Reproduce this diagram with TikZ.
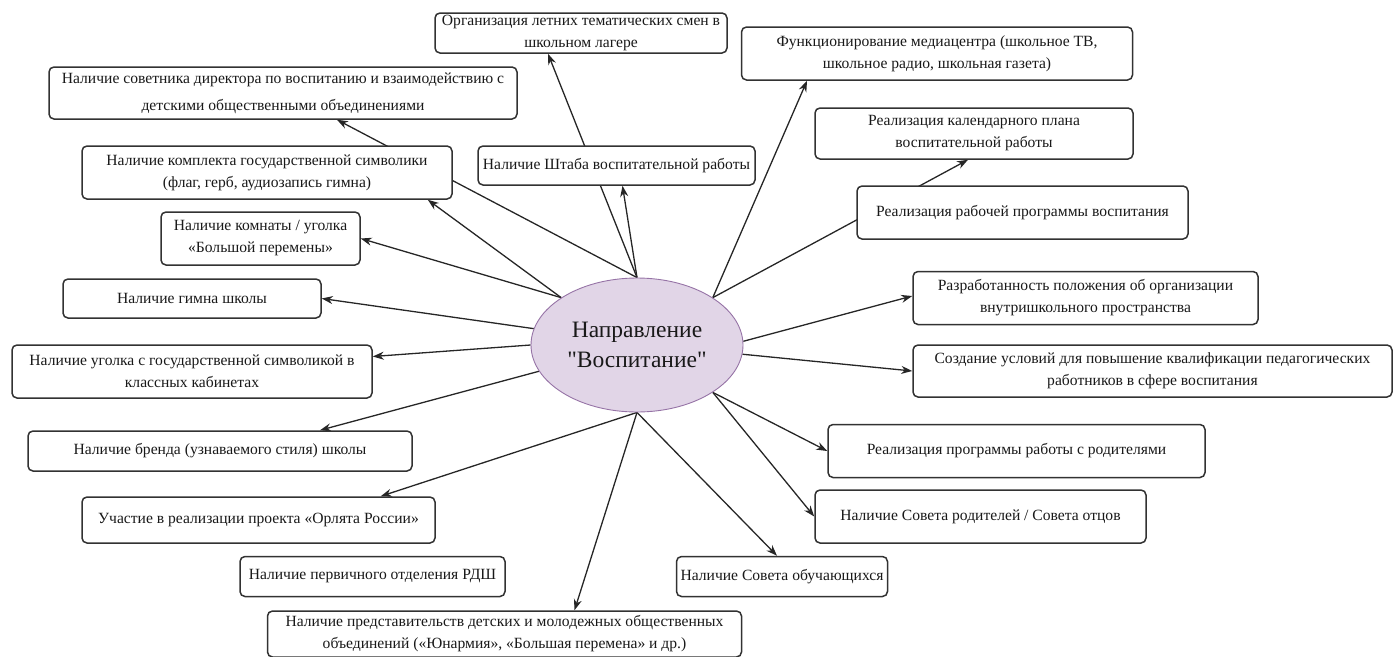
\documentclass[tikz,border=0pt]{standalone}
\usepackage{fontspec}
\setmainfont{Liberation Serif}
\newfontfamily\ellfont{Liberation Serif}
\usetikzlibrary{arrows.meta}
\usetikzlibrary{shapes.geometric}
\definecolor{ellfill}{RGB}{225,213,231}
\definecolor{elldraw}{RGB}{150,115,166}
\definecolor{boxline}{RGB}{50,50,50}
\pgfdeclarelayer{background}
\pgfsetlayers{background,main}

\begin{document}
\begin{tikzpicture}[x=1pt, y=-1pt,
	box/.style={draw=boxline, line width=1.5pt, rounded corners=5pt, fill=white, align=center, inner sep=0pt, text=black!90, font=\fontsize{15.6}{22}\selectfont},
	link/.style={draw=black!85, line width=1.3pt, -{Stealth[length=11pt,width=8pt]}}]
	
	% Fix page size
	\useasboundingbox (0,0) rectangle (1394,656);
	
	% Draw central ellipse
	\node[ellipse, draw=elldraw, fill=ellfill, line width=0.9pt, minimum width=212pt, minimum height=134pt, align=center, text=black!90, font=\ellfont\fontsize{23.5}{30}\selectfont] (vosp) at (637,345) {Направление\\"Воспитание"};
	
	% Draw boxes, upper half
	\node[box, minimum width=292pt, minimum height=40pt] (camp) at (581,33) {Организация летних тематических смен в\\школьном лагере};
	\node[box, minimum width=468pt, minimum height=52pt] (advisor) at (283,93) {Наличие советника директора по воспитанию и взаимодействию с\\[5pt]детскими общественными объединениями};
	\node[box, minimum width=370pt, minimum height=53pt] (symbols) at (267,172.5) {Наличие комплекта государственной символики\\(флаг, герб, аудиозапись гимна)};
	\node[box, minimum width=277pt, minimum height=39pt] (staff) at (616.5,165.5) {Наличие Штаба воспитательной работы};
	\node[box, minimum width=391pt, minimum height=53pt] (media) at (937,53.5) {Функционирование медиацентра (школьное ТВ,\\школьное радио, школьная газета)};
	\node[box, minimum width=318pt, minimum height=51pt] (calendar) at (974,133.5) {Реализация календарного плана\\воспитательной работы};
	\node[box, minimum width=331pt, minimum height=53pt] (program) at (1022.5,212.5) {Реализация рабочей программы воспитания};
	\node[box, minimum width=199pt, minimum height=53pt] (room) at (260.5,238.5) {Наличие комнаты / уголка\\«Большой перемены»};
	\node[box, minimum width=258pt, minimum height=39pt] (anthem) at (192,298.5) {Наличие гимна школы};
	\node[box, minimum width=360pt, minimum height=53pt] (corner) at (192,371.5) {Наличие уголка с государственной символикой в\\классных кабинетах};
	\node[box, minimum width=345pt, minimum height=53pt] (space) at (1085.5,298) {Разработанность положения об организации\\внутришкольного пространства};
	\node[box, minimum width=479pt, minimum height=52pt] (training) at (1152.5,371) {Создание условий для повышение квалификации педагогических\\работников в сфере воспитания};
	
	% Draw boxes, lower half
	\node[box, minimum width=384pt, minimum height=40pt] (brand) at (220,451) {Наличие бренда (узнаваемого стиля) школы};
	\node[box, minimum width=377pt, minimum height=53pt] (parents) at (1016.5,451) {Реализация программы работы с родителями};
	\node[box, minimum width=353pt, minimum height=46pt] (eaglets) at (258.5,520) {Участие в реализации проекта «Орлята России»};
	\node[box, minimum width=331pt, minimum height=53pt] (council) at (980.5,516.5) {Наличие Совета родителей / Совета отцов};
	\node[box, minimum width=265pt, minimum height=40pt] (rdsh) at (372.5,576.5) {Наличие первичного отделения РДШ};
	\node[box, minimum width=211pt, minimum height=40pt] (students) at (782,576.5) {Наличие Совета обучающихся};
	\node[box, minimum width=474pt, minimum height=46pt] (youth) at (504.5,634) {Наличие представительств детских и молодежных общественных\\объединений («Юнармия», «Большая перемена» и др.)};
	
	% Draw arrows behind the boxes
	\begin{pgfonlayer}{background}
		\draw[link] (vosp.north) -- ([xshift=-33pt]camp.south);
		\draw[link] (vosp.north) -- ([xshift=6pt]staff.south);
		\draw[link] (vosp.north) -- ([xshift=54pt]advisor.south);
		\draw[link] (vosp.148) -- ([xshift=-25pt]symbols.south east);
		\draw[link] (vosp.148) -- (room.east);
		\draw[link] (vosp.171) -- (anthem.east);
		\draw[link] (vosp.180) -- ([yshift=15pt]corner.east);
		\draw[link] (vosp.195) -- ([xshift=100pt]brand.north);
		\draw[link] (vosp.south) -- ([xshift=-55pt]eaglets.north east);
		\draw[link] (vosp.south) -- ([xshift=70pt]youth.north);
		\draw[link] (vosp.south) -- ([xshift=-5pt]students.north);
		\draw[link] (vosp.328) -- (council.west);
		\draw[link] (vosp.328) -- (parents.west);
		\draw[link] (vosp.2) -- ([yshift=2pt]space.west);
		\draw[link] (vosp.355) -- (training.west);
		\draw[link] (vosp.32) -- ([xshift=-130pt]media.south);
		\draw[link] (vosp.32) -- ([xshift=-6pt]calendar.south);
	\end{pgfonlayer}
	
\end{tikzpicture}
\end{document}
